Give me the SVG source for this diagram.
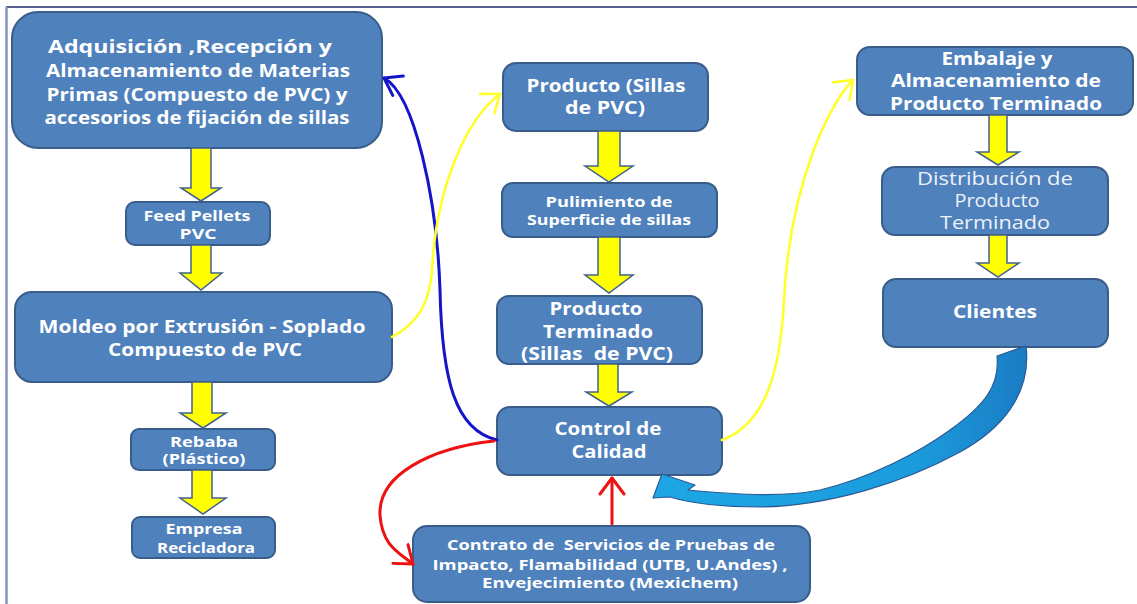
<svg xmlns="http://www.w3.org/2000/svg" width="1137" height="604" viewBox="0 0 1137 604">
  <style>
    .box { fill: #4f81bd; stroke: #385d8a; stroke-width: 2; }
    .t { font-family: "Open Sans", "Liberation Sans", sans-serif; font-weight: bold; fill: #ffffff; text-anchor: middle; white-space: pre; }
    .tr { font-family: "Open Sans", "Liberation Sans", sans-serif; font-weight: normal; fill: #eef1f7; text-anchor: middle; }
    .big { font-size: 18px; }
    .small { font-size: 14.5px; }
    .blk { fill: #ffff00; stroke: #41628f; stroke-width: 1.5; stroke-linejoin: miter; }
    .cv { fill: none; stroke-linecap: round; stroke-linejoin: round; }
  </style>
  <defs>
    <marker id="headBlue" markerUnits="userSpaceOnUse" viewBox="-20 -14 23 28" markerWidth="23" markerHeight="28" refX="0" refY="0" orient="auto">
      <path d="M-16,-11 L0,0 L-16,11" fill="none" stroke="#1414c8" stroke-width="3" stroke-linecap="round" stroke-linejoin="round"/>
    </marker>
    <marker id="headYellow" markerUnits="userSpaceOnUse" viewBox="-20 -14 23 28" markerWidth="23" markerHeight="28" refX="0" refY="0" orient="auto">
      <path d="M-16,-12 L0,0 L-16,12" fill="none" stroke="#ffff2e" stroke-width="2.6" stroke-linecap="round" stroke-linejoin="round"/>
    </marker>
    <marker id="headRed" markerUnits="userSpaceOnUse" viewBox="-20 -14 23 28" markerWidth="23" markerHeight="28" refX="0" refY="0" orient="auto">
      <path d="M-16,-12 L0,0 L-16,12" fill="none" stroke="#ee1111" stroke-width="3" stroke-linecap="round" stroke-linejoin="round"/>
    </marker>
    <linearGradient id="gBlue" x1="0" y1="0" x2="1" y2="0">
      <stop offset="0" stop-color="#1ea6e4"/>
      <stop offset="0.7" stop-color="#1b9cdc"/>
      <stop offset="1" stop-color="#1a7cc4"/>
    </linearGradient>
  </defs>

  <rect x="0" y="0" width="1137" height="604" fill="#ffffff"/>
  <!-- page frame -->
  <line x1="6" y1="7" x2="1137" y2="7" stroke="#1f2a6b" stroke-width="1.5"/>
  <line x1="6.5" y1="7" x2="6.5" y2="604" stroke="#8595bd" stroke-width="2.5"/>

  <!-- process steps -->
  <g id="adquisicion">
    <rect class="box" x="12" y="12" width="370" height="136" rx="26"/>
    <text class="t big" x="190" y="53" textLength="284" lengthAdjust="spacingAndGlyphs">Adquisición ,Recepción y</text>
    <text class="t big" x="198" y="77" textLength="304" lengthAdjust="spacingAndGlyphs">Almacenamiento de Materias</text>
    <text class="t big" x="197" y="101" textLength="301" lengthAdjust="spacingAndGlyphs">Primas (Compuesto de PVC) y</text>
    <text class="t big" x="197" y="124" textLength="305" lengthAdjust="spacingAndGlyphs">accesorios de fijación de sillas</text>
  </g>
  <g id="feed-pellets">
    <rect class="box" x="126" y="202" width="144" height="43" rx="9"/>
    <text class="t small" x="197" y="221" textLength="107" lengthAdjust="spacingAndGlyphs">Feed Pellets</text>
    <text class="t small" x="198" y="239" textLength="37" lengthAdjust="spacingAndGlyphs">PVC</text>
  </g>
  <g id="moldeo">
    <rect class="box" x="15" y="292" width="377" height="90" rx="17"/>
    <text class="t big" x="202" y="333" textLength="327" lengthAdjust="spacingAndGlyphs">Moldeo por Extrusión - Soplado</text>
    <text class="t big" x="205" y="356" textLength="194" lengthAdjust="spacingAndGlyphs">Compuesto de PVC</text>
  </g>
  <g id="rebaba">
    <rect class="box" x="131" y="429" width="144" height="41" rx="8"/>
    <text class="t small" x="204" y="447" textLength="68" lengthAdjust="spacingAndGlyphs">Rebaba</text>
    <text class="t small" x="204" y="464" textLength="83" lengthAdjust="spacingAndGlyphs">(Plástico)</text>
  </g>
  <g id="empresa-recicladora">
    <rect class="box" x="132" y="517" width="143" height="41" rx="8"/>
    <text class="t small" x="204" y="534" textLength="77" lengthAdjust="spacingAndGlyphs">Empresa</text>
    <text class="t small" x="206" y="553" textLength="98" lengthAdjust="spacingAndGlyphs">Recicladora</text>
  </g>
  <g id="producto">
    <rect class="box" x="503" y="63" width="205" height="68" rx="13"/>
    <text class="t big" x="606" y="92" textLength="159" lengthAdjust="spacingAndGlyphs">Producto (Sillas</text>
    <text class="t big" x="605" y="114" textLength="80" lengthAdjust="spacingAndGlyphs">de PVC)</text>
  </g>
  <g id="pulimiento">
    <rect class="box" x="502" y="183" width="215" height="54" rx="11"/>
    <text class="t small" x="609" y="207" textLength="127" lengthAdjust="spacingAndGlyphs">Pulimiento de</text>
    <text class="t small" x="609" y="225" textLength="164" lengthAdjust="spacingAndGlyphs">Superficie de sillas</text>
  </g>
  <g id="producto-terminado">
    <rect class="box" x="497" y="296" width="205" height="68" rx="12"/>
    <text class="t big" x="596" y="315" textLength="93" lengthAdjust="spacingAndGlyphs">Producto</text>
    <text class="t big" x="598" y="338" textLength="110" lengthAdjust="spacingAndGlyphs">Terminado</text>
    <text class="t big" x="597" y="360" textLength="152" lengthAdjust="spacingAndGlyphs">(Sillas  de PVC)</text>
  </g>
  <g id="control-calidad">
    <rect class="box" x="497" y="407" width="225" height="68" rx="13"/>
    <text class="t big" x="608" y="435" textLength="107" lengthAdjust="spacingAndGlyphs">Control de</text>
    <text class="t big" x="609" y="458" textLength="75" lengthAdjust="spacingAndGlyphs">Calidad</text>
  </g>
  <g id="contrato-pruebas">
    <rect class="box" x="413" y="526" width="397" height="76" rx="14"/>
    <text class="t small" x="611" y="550" textLength="328" lengthAdjust="spacingAndGlyphs">Contrato de  Servicios de Pruebas de</text>
    <text class="t small" x="610" y="570" textLength="355" lengthAdjust="spacingAndGlyphs">Impacto, Flamabilidad (UTB, U.Andes) ,</text>
    <text class="t small" x="610" y="588" textLength="256" lengthAdjust="spacingAndGlyphs">Envejecimiento (Mexichem)</text>
  </g>
  <g id="embalaje">
    <rect class="box" x="857" y="47" width="276" height="68" rx="13"/>
    <text class="t big" x="997" y="65" textLength="111" lengthAdjust="spacingAndGlyphs">Embalaje y</text>
    <text class="t big" x="996" y="87" textLength="210" lengthAdjust="spacingAndGlyphs">Almacenamiento de</text>
    <text class="t big" x="996" y="110" textLength="212" lengthAdjust="spacingAndGlyphs">Producto Terminado</text>
  </g>
  <g id="distribucion">
    <rect class="box" x="882" y="167" width="226" height="68" rx="13"/>
    <text class="tr big" x="995" y="185" textLength="156" lengthAdjust="spacingAndGlyphs">Distribución de</text>
    <text class="tr big" x="997" y="207" textLength="85" lengthAdjust="spacingAndGlyphs">Producto</text>
    <text class="tr big" x="995" y="229" textLength="110" lengthAdjust="spacingAndGlyphs">Terminado</text>
  </g>
  <g id="clientes">
    <rect class="box" x="883" y="279" width="225" height="68" rx="13"/>
    <text class="t big" x="995" y="318" textLength="84" lengthAdjust="spacingAndGlyphs">Clientes</text>
  </g>

  <!-- connectors -->
  <g id="connectors">
    <!-- block arrows between consecutive steps -->
    <path class="blk" d="M191,148 H211 V188 H221 L201,201 L181,188 H191 Z"/>
    <path class="blk" d="M191,245 H211 V273 H222 L201,290 L180,273 H191 Z"/>
    <path class="blk" d="M192,382 H212 V413 H226 L203,428 L180,413 H192 Z"/>
    <path class="blk" d="M192,470 H212 V498 H226 L203,514 L180,498 H192 Z"/>
    <path class="blk" d="M598,131 H620 V166 H633 L609,182 L585,166 H598 Z"/>
    <path class="blk" d="M598,237 H620 V275 H633 L609,293 L585,275 H598 Z"/>
    <path class="blk" d="M598,364 H618 V392 H632 L609,406 L586,392 H598 Z"/>
    <path class="blk" d="M989,115 H1007 V152 H1019 L998,165 L977,152 H989 Z"/>
    <path class="blk" d="M989,235 H1007 V263 H1019 L998,277 L977,263 H989 Z"/>

    <!-- feedback and flow curves -->
    <path class="cv" d="M497,440 C455,430 442,380 440,290 C437,200 415,95 384,78" stroke="#1414c8" stroke-width="3" marker-end="url(#headBlue)"/>
    <path class="cv" d="M392,337 C420,322 430,300 432,270 C436,190 465,120 500,94" stroke="#ffff2e" stroke-width="2.6" marker-end="url(#headYellow)"/>
    <path class="cv" d="M722,440 C762,425 780,380 784,300 C790,180 832,100 853,80" stroke="#ffff2e" stroke-width="2.6" marker-end="url(#headYellow)"/>
    <path class="cv" d="M494,441 C430,448 378,475 380,515 C382,545 398,552 413,564" stroke="#ee1111" stroke-width="3" marker-end="url(#headRed)"/>
    <path class="cv" d="M612,524 L612,478" stroke="#ee1111" stroke-width="3" marker-end="url(#headRed)"/>

    <!-- curved return arrow from Clientes -->
    <path d="M997,356 L1026,346 C1032,395 1000,430 960,452 C905,482 830,506 760,507 C720,507 690,503 670,497 L653,498 L662,474 L695,485 L688,490 C730,494 780,498 820,490 C870,478 920,452 950,430 C985,405 1000,385 997,356 Z" fill="url(#gBlue)" stroke="#2a5a96" stroke-width="1.2" stroke-linejoin="round"/>
  </g>
</svg>
